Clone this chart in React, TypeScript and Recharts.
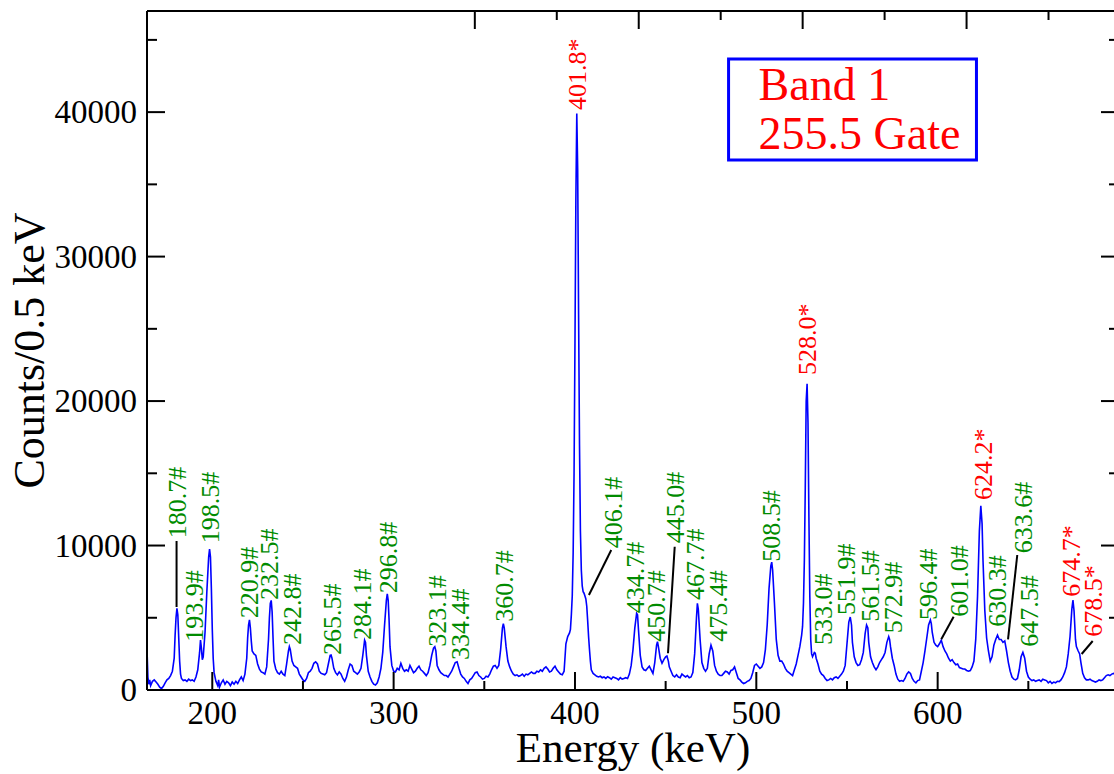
import React from 'react';
import { LineChart, Line, XAxis, YAxis, ReferenceDot, ReferenceLine, ReferenceArea } from 'recharts';

// gated gamma spectrum: [energy keV, counts per 0.5 keV]
const spectrumLow: [number, number][] = [
  [164, 2800], [164.5, 900], [165, 400], [165.5, 700], [166, 300], [167, 600], [168, 700], [169, 550],
  [170, 400], [171, 200], [172, 100], [173, 250], [174, 500], [175, 700], [176, 800], [177, 1000],
  [178, 1300], [179, 2200], [179.5, 3800], [180, 5000], [180.5, 5650], [181, 5200], [181.5, 3600],
  [182, 2000], [182.5, 1100], [183, 800], [184, 650], [185, 700], [186, 600], [187, 750], [188, 650],
  [189, 700], [190, 600], [191, 900], [192, 1400], [193, 2600], [193.5, 3450], [194, 2900], [194.5, 2100],
  [195, 2300], [196, 4000], [197, 6800], [198, 9200], [198.5, 9750], [199, 9200], [199.5, 7000],
  [200, 4200], [200.5, 2200], [201, 1200], [201.5, 900], [202, 600], [203, 300], [203.5, 700], [204, 200],
  [205, 500], [206, 700], [207, 400], [208, 600], [209, 500], [210, 300], [211, 550], [212, 400],
  [213, 600], [214, 450], [215, 700], [216, 900], [217, 650], [218, 1100], [219, 2200], [219.5, 3600],
  [220, 4500], [220.5, 4850], [221, 4300], [221.5, 3400], [222, 2700], [223, 2500], [224, 2400],
  [225, 1800], [226, 1450], [227, 1250], [228, 1200], [229, 1100], [230, 1600], [231, 3500],
  [231.5, 5000], [232, 6000], [232.5, 6200], [233, 5400], [233.5, 3600], [234, 2000], [235, 1450],
  [236, 1200], [237, 1100], [238, 1300], [239, 1100], [240, 1000], [241, 1800], [242, 2700],
  [242.5, 3000], [243, 2800], [244, 2000], [245, 1700], [246, 1600], [247, 1500], [248, 1100],
  [249, 900], [250, 700], [251, 600], [252, 800], [253, 1200], [254, 1300], [255, 1500], [256, 1850],
  [257, 1950], [258, 1800], [259, 1300], [260, 1150], [261, 1100], [262, 1050], [263, 1200],
  [264, 1800], [265, 2400], [265.5, 2420], [266, 2200], [267, 1500], [268, 1200], [269, 1050],
  [270, 1250], [271, 1100], [272, 800], [273, 600], [274, 900], [275, 1400], [276, 1800], [277, 1700],
  [278, 1300], [279, 1200], [280, 1100], [281, 1250], [282, 1500], [283, 2400], [284, 3450],
  [284.5, 3300], [285, 2400], [286, 1300], [287, 900], [288, 600], [289, 400], [290, 350], [291, 500],
  [292, 900], [293, 1500], [294, 2600], [295, 4500], [296, 6200], [296.5, 6650], [297, 6200],
  [297.5, 4800], [298, 3000], [299, 1700], [300, 1300],
];

const spectrumMid: [number, number][] = [
  [301, 1250], [302, 1500], [303, 1400], [304, 1850], [305, 1500], [306, 1300], [307, 1400], [308, 1300],
  [309, 1700], [310, 1450], [311, 1200], [312, 1300], [313, 1500], [314, 1650], [315, 1400], [316, 1300],
  [317, 1150], [318, 1000], [319, 1200], [320, 1700], [321, 2400], [322, 2900], [322.7, 3000],
  [323.3, 2700], [324, 1700], [325, 1400], [326, 1200], [327, 1100], [328, 1000], [329, 1000],
  [330, 900], [331, 1100], [332, 1300], [333, 1600], [334, 1900], [335, 1950], [336, 1500], [337, 1100],
  [338, 900], [339, 800], [340, 600], [341, 450], [342, 700], [343, 800], [344, 1000], [345, 1200],
  [346, 1250], [347, 1000], [348, 900], [349, 750], [350, 800], [351, 950], [352, 900], [353, 1100],
  [354, 1400], [355, 1650], [356, 1700], [357, 1500], [358, 1700], [359, 2800], [360, 4300],
  [360.5, 4600], [361, 4300], [362, 3000], [363, 2000], [364, 1600], [365, 1300], [366, 1100],
  [367, 1000], [368, 1050], [369, 950], [370, 1000], [371, 1100], [372, 950], [373, 1100], [374, 1050],
  [375, 1150], [376, 1250], [377, 1150], [378, 1150], [379, 1300], [380, 1250], [381, 1400],
  [382, 1300], [383, 1500], [384, 1600], [385, 1450], [386, 1250], [387, 1300], [388, 1500],
  [389, 1650], [390, 1400], [391, 1250], [392, 1100], [393, 1050], [394, 1300], [395, 3200],
  [396, 3700], [397, 3950], [397.5, 4200], [398, 5200], [398.5, 6500], [399, 9500], [399.5, 15000],
  [400, 24000], [400.5, 34000], [401, 39900], [401.5, 36000], [402, 26000], [402.5, 17000],
  [403, 11000], [403.5, 8300], [404, 7200], [404.5, 6800], [405, 6700], [405.5, 6500], [406, 6300],
  [406.5, 5800], [407, 4800], [407.5, 3700], [408, 2800], [408.5, 2000], [409, 1400], [410, 1150],
  [411, 1050], [412, 950], [413, 900], [414, 950], [415, 850], [416, 900], [417, 800], [418, 920],
  [419, 850], [420, 750], [421, 900], [422, 850], [423, 800], [424, 700], [425, 850], [426, 750],
  [427, 800], [428, 850], [429, 800], [430, 1100], [431, 1700], [432, 2800], [433, 4300], [434, 5300],
  [434.5, 5200], [435, 4200], [436, 2400], [437, 1600], [438, 1400], [439, 1350], [440, 1500],
  [441, 1650], [442, 1400], [443, 1150], [444, 1900], [445, 3100], [445.5, 3350], [446, 3000],
  [447, 2200], [448, 1850], [449, 2100], [450, 2300], [450.7, 2350], [451.5, 2000], [452, 1600],
  [453, 1300], [454, 1000], [455, 900], [456, 1050], [457, 900], [458, 850], [459, 1100], [460, 1000],
  [461, 900], [462, 1000], [463, 850], [464, 900], [465, 1200], [466, 2500], [467, 5000],
  [467.5, 6000], [468, 5600], [469, 3500], [470, 1900], [471, 1500], [472, 1300], [473, 1500],
  [474, 2500], [475, 3100], [476, 2700], [477, 1700], [478, 1300], [479, 1100], [480, 1000],
  [481, 1000], [482, 1150], [483, 1300], [484, 1250], [485, 1100], [486, 1350], [487, 1400],
  [488, 1600], [489, 1200], [490, 800], [491, 700], [492, 550], [493, 450], [494, 500], [495, 600],
  [496, 650], [497, 800], [498, 1200], [499, 1700], [500, 1800],
];

const spectrumHigh: [number, number][] = [
  [501, 1650], [502, 1500], [503, 1600], [504, 1900], [505, 2800], [506, 4500], [507, 7000],
  [508, 8600], [508.5, 8850], [509, 8300], [510, 6000], [511, 3500], [512, 2400], [513, 2000],
  [514, 2000], [515, 1800], [516, 1500], [517, 1300], [518, 1200], [519, 1100], [520, 1000],
  [521, 1400], [522, 1800], [523, 2400], [524, 3000], [525, 3800], [525.5, 4400], [526, 6000],
  [526.5, 9000], [527, 14000], [527.5, 20000], [528, 21200], [528.5, 18500], [529, 12000],
  [529.5, 6500], [530, 3500], [530.5, 2500], [531, 2300], [532, 2600], [532.5, 2550], [533, 2200],
  [534, 1800], [535, 1300], [536, 1100], [537, 1000], [538, 800], [539, 650], [540, 700], [541, 800],
  [542, 700], [543, 850], [544, 900], [545, 800], [546, 950], [547, 1100], [548, 1300], [549, 1700],
  [550, 3200], [551, 4700], [551.8, 5050], [552.5, 4500], [553, 3300], [554, 2300], [555, 1900],
  [556, 1700], [557, 1750], [558, 2100], [559, 2600], [560, 3900], [560.8, 4500], [561.5, 4300],
  [562, 3300], [563, 2300], [564, 1900], [565, 1600], [566, 1400], [567, 1600], [568, 1900],
  [569, 2100], [570, 2300], [571, 2600], [572, 3300], [573, 3700], [573.5, 3500], [574, 3000],
  [575, 2200], [576, 1700], [577, 1100], [578, 750], [579, 600], [580, 650], [581, 600], [582, 800],
  [583, 1100], [584, 1250], [585, 1150], [586, 800], [587, 600], [588, 500], [589, 650], [590, 700],
  [591, 1300], [592, 1900], [593, 2700], [594, 3600], [595, 4500], [596, 4850], [596.5, 4600],
  [597, 4000], [598, 3300], [599, 3100], [600, 3000], [601, 3200], [602, 3450], [603, 3000],
  [604, 2700], [605, 2500], [606, 2200], [607, 2000], [608, 2100], [609, 1900], [610, 1750],
  [611, 1800], [612, 1550], [613, 1500], [614, 1450], [615, 1450], [616, 1350], [617, 1300],
  [618, 1350], [619, 1600], [620, 2000], [621, 3500], [622, 6500], [623, 11000], [623.8, 12750],
  [624.5, 11500], [625, 9000], [626, 5500], [627, 3600], [628, 2700], [629, 2000], [630, 2300],
  [631, 3100], [632, 3500], [633, 3800], [634, 3500], [635, 3500], [636, 3300], [637, 3400],
  [638, 2700], [639, 1900], [640, 1300], [641, 900], [642, 750], [643, 700], [644, 800], [645, 1400],
  [646, 2300], [647, 2600], [648, 2200], [649, 1300], [650, 900], [651, 750], [652, 650], [653, 700],
  [654, 600], [655, 650], [656, 700], [657, 600], [658, 750], [659, 700], [660, 650], [661, 500],
  [662, 600], [663, 450], [664, 550], [665, 500], [666, 600], [667, 580], [668, 700], [669, 900],
  [670, 1200], [671, 1600], [672, 2500], [673, 3700], [674, 5600], [674.6, 6230], [675.2, 5500],
  [676, 3500], [676.5, 3000], [677.5, 2700], [678.3, 2500], [679, 1900], [680, 1150], [681, 850],
  [682, 700], [683, 700], [684, 750], [685, 650], [686, 600], [687, 550], [688, 600], [689, 700],
  [690, 650], [691, 700], [692, 850], [693, 1000], [694, 1050], [695, 1000], [696, 1100], [697, 1150],
  [698, 1100], [699, 1150], [700, 1100],
];

// peak tags: text and the point (energy, counts) where the vertical text starts
const peakTags: [string, number, number][] = [
  ['180.7#', 180.5, 10500], ['193.9#', 190.2, 3343], ['198.5#', 198.9, 10155],
  ['220.9#', 220.2, 4963], ['232.5#', 231.2, 6230], ['242.8#', 244.1, 3115],
  ['265.5#', 266.2, 2423], ['284.1#', 282.7, 3461], ['296.8#', 296.8, 6693],
  ['323.1#', 323.9, 2997], ['334.4#', 336.8, 2077], ['360.7#', 361.2, 4728],
  ['401.8*', 401.3, 40148], ['406.1#', 421.3, 9808], ['434.7#', 433.4, 5309],
  ['450.7#', 444.9, 3343], ['445.0#', 455.5, 10155], ['467.7#', 466.5, 6230],
  ['475.4#', 478.8, 3343], ['508.5#', 508.3, 8881], ['528.0*', 528.3, 21804],
  ['533.0#', 537.1, 3115], ['551.9#', 549.6, 5192], ['561.5#', 562.9, 4728],
  ['572.9#', 575.7, 3925], ['596.4#', 594.6, 4845], ['601.0#', 611.7, 5074],
  ['624.2*', 625.0, 13152], ['630.3#', 632.7, 4382], ['633.6#', 647.0, 9462],
  ['647.5#', 650.3, 2997], ['674.7*', 673.7, 6458], ['678.5*', 685.6, 3689],
];

// leader lines from a peak to its tag: [e1, c1, e2, c2]
const leaders: [number, number, number, number][] = [
  [180.3, 5745, 180.3, 10314],
  [407.7, 6576, 420.0, 9691],
  [451.3, 2540, 455.0, 9919],
  [602.0, 3509, 608.8, 5074],
  [638.8, 3509, 643.9, 9345],
  [679.4, 2492, 685.5, 3392],
];

const xTicks = [200, 250, 300, 350, 400, 450, 500, 550, 600, 650];
const yTicks = [0, 5000, 10000, 15000, 20000, 25000, 30000, 35000, 40000, 45000];

const spectrum = [...spectrumLow, ...spectrumMid, ...spectrumHigh].map(([e, c]) => ({ e, c }));

const serif = "'Liberation Serif', 'Times New Roman', Times, serif";
const green = '#008b00';
const red = '#ff0000';

function BottomTick(props: any) {
  const { x, y, payload } = props;
  const major = payload.value % 100 === 0;
  return (
    <g>
      <line x1={x} y1={y} x2={x} y2={y - (major ? 18 : 9)} stroke="#000" strokeWidth={2} />
      {major && (
        <text x={x} y={y + 34} textAnchor="middle" fontSize={33} fontFamily={serif} fill="#000">
          {payload.value}
        </text>
      )}
    </g>
  );
}

function TopTick(props: any) {
  const { x, y, payload } = props;
  const major = payload.value % 100 === 0;
  return <line x1={x} y1={y} x2={x} y2={y + (major ? 18 : 9)} stroke="#000" strokeWidth={2} />;
}

function LeftTick(props: any) {
  const { x, y, payload } = props;
  const major = payload.value % 10000 === 0;
  return (
    <g>
      <line x1={x} y1={y} x2={x + (major ? 18 : 10)} y2={y} stroke="#000" strokeWidth={2} />
      {major && (
        <text x={x - 10} y={y} dy="0.34em" textAnchor="end" fontSize={33} fontFamily={serif} fill="#000">
          {payload.value}
        </text>
      )}
    </g>
  );
}

function RightTick(props: any) {
  const { x, y, payload } = props;
  const major = payload.value % 10000 === 0;
  return <line x1={x} y1={y} x2={x - (major ? 18 : 10)} y2={y} stroke="#000" strokeWidth={2} />;
}

function PeakTag(props: any) {
  const { cx, cy, text } = props;
  const fill = text.endsWith('*') ? red : green;
  return (
    <text
      x={cx}
      y={cy}
      dy="0.34em"
      transform={`rotate(-90 ${cx} ${cy})`}
      fontSize={26}
      fontFamily={serif}
      fill={fill}
    >
      {text}
    </text>
  );
}

const yLabel = (props: any) => {
  const vb = props.viewBox;
  const cy = vb.y + vb.height / 2;
  return (
    <text x={44} y={cy} transform={`rotate(-90 44 ${cy})`} textAnchor="middle" fontSize={44} fontFamily={serif} fill="#000">
      Counts/0.5 keV
    </text>
  );
};

const xLabel = (props: any) => {
  const vb = props.viewBox;
  return (
    <text x={vb.x + vb.width / 2} y={vb.y + 72} textAnchor="middle" fontSize={43} fontFamily={serif} fill="#000">
      Energy (keV)
    </text>
  );
};

const boxLabel = (props: any) => {
  const vb = props.viewBox;
  return (
    <g fontFamily={serif} fontSize={46} fill={red}>
      <text x={vb.x + 30} y={vb.y + 41}>Band 1</text>
      <text x={vb.x + 30} y={vb.y + 90}>255.5 Gate</text>
    </g>
  );
};

export default function App() {
  return (
    <div style={{ position: 'absolute', left: 0, top: 0, width: 1114, height: 774, overflow: 'hidden', background: '#fff' }}>
      <LineChart width={1122} height={774} data={spectrum} margin={{ top: 10, right: 1, bottom: 0, left: 0 }}>
        <XAxis
          dataKey="e"
          type="number"
          domain={[164, 700]}
          allowDataOverflow
          ticks={xTicks}
          interval={0}
          tickSize={0}
          tickMargin={0}
          tick={BottomTick}
          height={84}
          axisLine={{ stroke: '#000', strokeWidth: 2 }}
          label={xLabel}
        />
        <XAxis
          xAxisId="top"
          orientation="top"
          type="number"
          domain={[164, 700]}
          allowDataOverflow
          ticks={xTicks}
          interval={0}
          tickSize={0}
          tickMargin={0}
          tick={TopTick}
          height={1}
          axisLine={{ stroke: '#000', strokeWidth: 2 }}
        />
        <YAxis
          type="number"
          domain={[0, 47000]}
          allowDataOverflow
          ticks={yTicks}
          interval={0}
          tickSize={0}
          tickMargin={0}
          tick={LeftTick}
          width={147}
          axisLine={{ stroke: '#000', strokeWidth: 2 }}
          label={yLabel}
        />
        <YAxis
          yAxisId="right"
          orientation="right"
          type="number"
          domain={[0, 47000]}
          allowDataOverflow
          ticks={yTicks}
          interval={0}
          tickSize={0}
          tickMargin={0}
          tick={RightTick}
          width={2}
          axisLine={{ stroke: '#000', strokeWidth: 2 }}
        />
        <Line
          type="linear"
          dataKey="c"
          stroke="#0000ff"
          strokeWidth={1.6}
          dot={false}
          activeDot={false}
          isAnimationActive={false}
        />
        {leaders.map(([e1, c1, e2, c2], i) => (
          <ReferenceLine
            key={'l' + i}
            segment={[{ x: e1, y: c1 }, { x: e2, y: c2 }]}
            stroke="#000"
            strokeWidth={2}
          />
        ))}
        {peakTags.map(([text, e, c]) => (
          <ReferenceDot
            key={text}
            x={e}
            y={c}
            r={0}
            shape={(p: any) => <PeakTag {...p} text={text} />}
          />
        ))}
        <ReferenceArea
          x1={484.7}
          x2={621.4}
          y1={36687}
          y2={43678}
          fill="none"
          fillOpacity={0}
          stroke="#0000ff"
          strokeWidth={3}
          strokeOpacity={1}
          label={boxLabel}
        />
      </LineChart>
    </div>
  );
}
